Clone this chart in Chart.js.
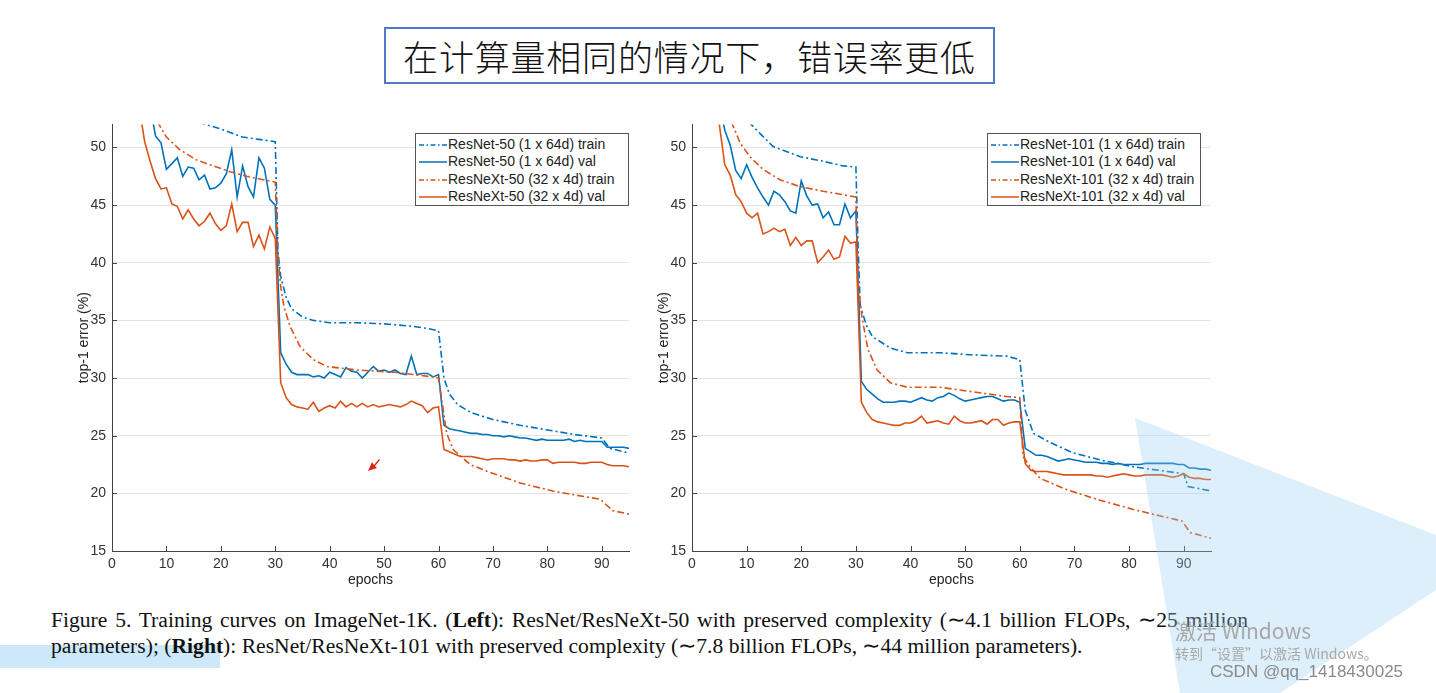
<!DOCTYPE html>
<html><head><meta charset="utf-8">
<script src="https://cdn.jsdelivr.net/npm/chart.js@4.4.0/dist/chart.umd.min.js"></script>
<style>
html,body{margin:0;padding:0;background:#fff;}
body{width:1436px;height:693px;overflow:hidden;position:relative;font-family:"Liberation Sans",Arial,sans-serif;}
.abs{position:absolute;}
#title{left:384px;top:27px;width:607px;height:53px;border:2px solid #5079c4;text-align:center;font-family:"Noto Sans CJK SC",sans-serif;font-weight:300;font-size:35px;line-height:53px;color:#111;letter-spacing:0.8px;}
canvas{position:absolute;}
.legend{position:absolute;width:212px;height:71px;border:1px solid #555;background:#fff;font-size:14px;color:#222;}
.legend .row{position:absolute;left:0;height:17px;line-height:17px;white-space:nowrap;}
.legend svg{position:absolute;left:2px;top:0;}
.legend span{position:absolute;left:32px;top:0;}
.cap{position:absolute;left:51px;font-family:"Liberation Serif","Times New Roman",serif;font-size:21.6px;line-height:26px;color:#111;white-space:nowrap;}
#cap1{top:607px;width:1197px;text-align:justify;text-align-last:justify;white-space:normal;height:26px;overflow:visible;}
#cap2{top:633px;}
#bar{left:0;top:645px;width:220px;height:23px;background:#cde9f9;}
.wm{position:absolute;color:#a8a8a8;white-space:nowrap;}
</style></head>
<body>
<div id="bar" class="abs"></div>
<div id="title" class="abs">在计算量相同的情况下，错误率更低</div>
<canvas id="cLeft" width="590" height="490" style="left:60px;top:110px;"></canvas>
<canvas id="cRight" width="590" height="490" style="left:640px;top:110px;"></canvas>
<div id="legLeft" class="legend" style="left:415px;top:133px;"></div>
<div id="legRight" class="legend" style="left:987px;top:133px;"></div>
<svg class="abs" style="left:366px;top:457px;" width="16" height="16"><path d="M2 14 L6 5 L8 8 L13 2 L14 3 L9 9 L11 11 Z" fill="#d9241c"/></svg>
<div id="cap1" class="cap">Figure 5. Training curves on ImageNet-1K. (<b>Left</b>): ResNet/ResNeXt-50 with preserved complexity (∼4.1 billion FLOPs, ∼25 million</div>
<div id="cap2" class="cap">parameters); (<b>Right</b>): ResNet/ResNeXt-101 with preserved complexity (∼7.8 billion FLOPs, ∼44 million parameters).</div>
<svg class="abs" style="left:0;top:0;pointer-events:none;" width="1436" height="693"><polygon points="1135,418 1436,535 1436,590 1280,693 1180,693" fill="rgba(150,205,240,0.33)"/></svg>
<div class="wm" style="left:1175px;top:615px;font-size:21px;font-family:'Noto Sans CJK SC',sans-serif;">激活 Windows</div>
<div class="wm" style="left:1175px;top:643px;font-size:14px;font-family:'Noto Sans CJK SC',sans-serif;">转到“设置”以激活 Windows。</div>
<div class="wm" style="left:1210px;top:662px;font-size:17px;color:#8a8a8a;">CSDN @qq_1418430025</div>
<script>
// ---- axes ----
const epochTicks = [0,10,20,30,40,50,60,70,80,90];
const errorTicks = [15,20,25,30,35,40,45,50];
const epochRange = [0,95];
const errorRange = [15,52];

// ---- legend labels ----
const leftLabels = ['ResNet-50 (1 x 64d) train','ResNet-50 (1 x 64d) val','ResNeXt-50 (32 x 4d) train','ResNeXt-50 (32 x 4d) val'];
const rightLabels = ['ResNet-101 (1 x 64d) train','ResNet-101 (1 x 64d) val','ResNeXt-101 (32 x 4d) train','ResNeXt-101 (32 x 4d) val'];

// ---- LEFT: ResNet-50 train (knots) ----
const r50TrainEpochs = [10,16.5,20,24,27,30,30.5,31,32,33,35,37,40,45,50,55,58,60,61,62,63.5,66,70,75,80,85,90,91.5,95];
const r50TrainErr    = [55.0,52.1,51.6,50.9,50.7,50.5,41.0,38.8,37.0,36.0,35.3,35.0,34.8,34.8,34.7,34.5,34.3,34.1,30.0,28.6,27.7,27.0,26.4,25.9,25.5,25.1,24.8,23.9,23.5];
// ResNet-50 val (per epoch, from epoch 7)
const r50ValStart = 7;
const r50ValErr = [53.5,51.0,50.4,48.1,48.6,49.1,47.5,48.3,48.2,47.2,47.6,46.4,46.5,46.9,47.7,49.8,45.7,48.4,46.6,45.7,49.1,48.2,45.5,45.0,
 32.2,31.2,30.5,30.3,30.3,30.3,30.1,30.2,30.0,30.5,30.3,30.1,30.9,30.6,30.5,30.0,30.5,31.0,30.6,30.7,30.5,30.7,30.4,30.3,31.9,30.3,30.4,30.4,30.1,30.3,
 25.9,25.6,25.5,25.4,25.3,25.2,25.2,25.1,25.1,25.0,25.0,24.9,25.0,24.9,24.8,24.8,24.7,24.6,24.7,24.6,24.6,24.6,24.6,24.7,24.5,24.6,24.5,24.5,24.5,24.5,24.0,24.0,24.0,24.0,23.9];
// ResNeXt-50 train (knots)
const r50xTrainEpochs = [6,8.5,10,12.5,15.6,18.6,21.7,24.8,27.8,30,30.5,31,31.6,32.7,34.6,37,39.5,45,52,59,60,61.5,62.7,65.8,69,75,81,87,89.7,90.6,92,95];
const r50xTrainErr    = [56,52.1,50.9,49.8,48.9,48.4,47.9,47.5,47.2,47.0,40.5,37.9,36.2,34.5,32.7,31.6,31.0,30.7,30.5,30.1,30.0,25.2,23.8,22.5,21.9,20.9,20.2,19.7,19.5,19.1,18.5,18.2];
// ResNeXt-50 val (per epoch, from epoch 5)
const r50xValStart = 5;
const r50xValErr = [53.5,50.5,48.8,47.3,46.4,46.5,45.1,44.9,43.8,44.6,43.8,43.2,43.6,44.3,43.4,42.8,43.2,45.1,42.7,43.5,43.5,41.4,42.4,41.2,43.1,42.1,
 29.6,28.3,27.7,27.5,27.4,27.3,27.9,27.1,27.4,27.6,27.4,28.0,27.5,27.8,27.5,27.8,27.5,27.7,27.5,27.6,27.7,27.6,27.5,27.7,28.0,27.8,27.6,27.0,27.4,27.5,
 23.8,23.6,23.4,23.2,23.2,23.2,23.1,23.0,22.9,23.0,23.0,23.0,22.9,22.9,22.8,22.9,22.8,22.8,22.9,22.9,22.6,22.7,22.7,22.7,22.7,22.6,22.6,22.7,22.7,22.7,22.5,22.4,22.4,22.4,22.3];

// ---- RIGHT: ResNet-101 train (knots) ----
const r101TrainEpochs = [8,10.6,14.8,19.8,24,27.7,30,30.4,30.8,32,33,36.3,39.4,45.4,51.5,57.6,60,61,62.5,65.6,69.8,74.7,80.8,87,90,90.8,93,95];
const r101TrainErr    = [56,52.1,50.1,49.2,48.8,48.4,48.3,41.5,36.2,34.5,33.6,32.6,32.2,32.2,32.0,31.9,31.6,27.2,25.2,24.4,23.5,22.9,22.3,21.9,21.7,20.6,20.4,20.2];
// ResNet-101 val (per epoch, from epoch 5)
const r101ValStart = 5;
const r101ValErr = [54.0,51.5,50.2,48.0,47.3,48.5,47.4,46.5,45.7,45.0,46.2,45.9,45.3,44.5,44.3,47.1,45.8,45.0,45.1,43.9,44.4,43.3,43.3,45.1,43.9,44.5,
 29.7,29.0,28.6,28.2,27.9,27.9,27.9,28.0,28.0,27.9,28.1,28.3,28.1,28.0,28.3,28.4,28.7,28.5,28.2,28.0,28.1,28.2,28.3,28.4,28.4,28.2,28.0,28.1,28.1,27.9,
 23.9,23.6,23.3,23.3,23.2,23.0,22.8,22.9,23.0,22.9,22.8,22.7,22.7,22.7,22.6,22.6,22.5,22.6,22.5,22.5,22.5,22.5,22.6,22.6,22.6,22.6,22.6,22.6,22.5,22.5,22.2,22.2,22.1,22.1,22.0];
// ResNeXt-101 train (knots)
const r101xTrainEpochs = [5,7.3,8.8,10.6,13,16.1,19.8,24,27.7,30,30.4,31.1,32.2,33.9,36.3,39.4,45.4,51.5,57.6,60,60.6,61.9,63.7,68.7,74.7,80.8,87,89.7,91.2,95];
const r101xTrainErr    = [56,52.1,50.4,49.2,48.1,47.2,46.6,46.2,45.9,45.7,38.3,35.3,32.5,30.7,29.6,29.2,29.2,28.8,28.4,28.3,23.2,22.3,21.3,20.3,19.4,18.6,17.9,17.6,16.6,16.1];
// ResNeXt-101 val (per epoch, from epoch 4)
const r101xValStart = 4;
const r101xValErr = [55.0,52.0,48.5,47.6,45.9,45.3,44.3,43.9,44.3,42.5,42.7,43.0,42.7,42.9,41.5,42.2,41.5,41.9,41.9,40.0,40.5,41.1,40.3,40.5,42.3,41.7,41.8,
 27.9,27.0,26.4,26.2,26.1,26.0,25.9,25.9,26.1,26.1,26.3,26.7,26.1,26.2,26.3,26.1,26.0,26.7,26.3,26.1,26.1,26.2,26.3,26.0,26.4,26.4,25.9,26.1,26.2,26.2,
 22.6,22.0,21.9,21.9,21.9,21.8,21.7,21.6,21.6,21.6,21.6,21.6,21.6,21.5,21.5,21.4,21.5,21.6,21.7,21.6,21.5,21.5,21.6,21.6,21.6,21.6,21.5,21.4,21.5,21.7,21.4,21.3,21.3,21.2,21.2];

// ---- styles ----
const BLUE = '#0072BD', ORANGE = '#D95319';
const DASHDOT = [7,3,2,3];
const seriesColors = [BLUE, BLUE, ORANGE, ORANGE];
const seriesDashed = [true, false, true, false];

function knots(ex, ey){ return ex.map((x,i)=>({x, y: ey[i]})); }
function perEpoch(start, vals){ return vals.map((v,i)=>({x: start+i, y: v})); }

Chart.defaults.font.family = '"Liberation Sans", Arial, sans-serif';
Chart.defaults.font.size = 14;
Chart.defaults.color = '#333';

const innerTicks = {
  id:'innerTicks',
  afterDraw(chart){
    const {ctx, chartArea:a, scales:{x,y}} = chart;
    ctx.save(); ctx.strokeStyle='#444'; ctx.lineWidth=1; ctx.beginPath();
    x.ticks.forEach(t=>{ const px=Math.round(x.getPixelForValue(t.value))+0.5; ctx.moveTo(px,a.bottom); ctx.lineTo(px,a.bottom-5); });
    y.ticks.forEach(t=>{ const py=Math.round(y.getPixelForValue(t.value))+0.5; ctx.moveTo(a.left,py); ctx.lineTo(a.left+5,py); });
    ctx.stroke(); ctx.restore();
  }
};

function makeChart(id, labels, dataArrays, padRight){
  const datasets = dataArrays.map((d,i)=>({
    label: labels[i], data: d, borderColor: seriesColors[i], borderWidth: 1.6,
    borderDash: seriesDashed[i] ? DASHDOT : [], pointRadius: 0, fill:false, tension:0,
    order: 3 - i
  }));
  return new Chart(document.getElementById(id), {
    type:'line',
    data:{datasets},
    plugins:[innerTicks],
    options:{
      responsive:false, animation:false, devicePixelRatio:1,
      layout:{padding:{top:14,right:padRight,left:0,bottom:0}},
      plugins:{legend:{display:false}, tooltip:{enabled:false}},
      scales:{
        x:{type:'linear', min:epochRange[0], max:epochRange[1],
          afterBuildTicks:s=>{s.ticks=epochTicks.map(v=>({value:v}));},
          afterFit:s=>{s.height=49;},
          grid:{display:false, drawTicks:false},
          border:{display:true,color:'#444',width:1},
          ticks:{padding:5,color:'#333',maxRotation:0,autoSkip:false},
          title:{display:true,text:'epochs',color:'#222',padding:{top:0,bottom:11}}
        },
        y:{type:'linear', min:errorRange[0], max:errorRange[1],
          afterBuildTicks:s=>{s.ticks=errorTicks.map(v=>({value:v}));},
          afterFit:s=>{s.width=52;},
          grid:{color:'#e4e4e4', drawTicks:false},
          border:{display:true,color:'#444',width:1},
          ticks:{padding:6,color:'#333'},
          title:{display:true,text:'top-1 error (%)',color:'#222',padding:{top:16,bottom:0}}
        }
      }
    }
  });
}

makeChart('cLeft', leftLabels, [
  knots(r50TrainEpochs, r50TrainErr), perEpoch(r50ValStart, r50ValErr),
  knots(r50xTrainEpochs, r50xTrainErr), perEpoch(r50xValStart, r50xValErr)
], 21);
makeChart('cRight', rightLabels, [
  knots(r101TrainEpochs, r101TrainErr), perEpoch(r101ValStart, r101ValErr),
  knots(r101xTrainEpochs, r101xTrainErr), perEpoch(r101xValStart, r101xValErr)
], 19);

function buildLegend(id, labels){
  const el = document.getElementById(id);
  labels.forEach((lab,i)=>{
    const row = document.createElement('div');
    row.className='row'; row.style.top = (2 + i*17.3) + 'px';
    const dash = seriesDashed[i] ? 'stroke-dasharray="5,2.5,1.5,2.5"' : '';
    row.innerHTML = '<svg width="30" height="17"><line x1="1" y1="9" x2="29" y2="9" stroke="'+seriesColors[i]+'" stroke-width="1.5" '+dash+'/></svg><span>'+lab+'</span>';
    el.appendChild(row);
  });
}
buildLegend('legLeft', leftLabels);
buildLegend('legRight', rightLabels);
</script>
</body></html>
